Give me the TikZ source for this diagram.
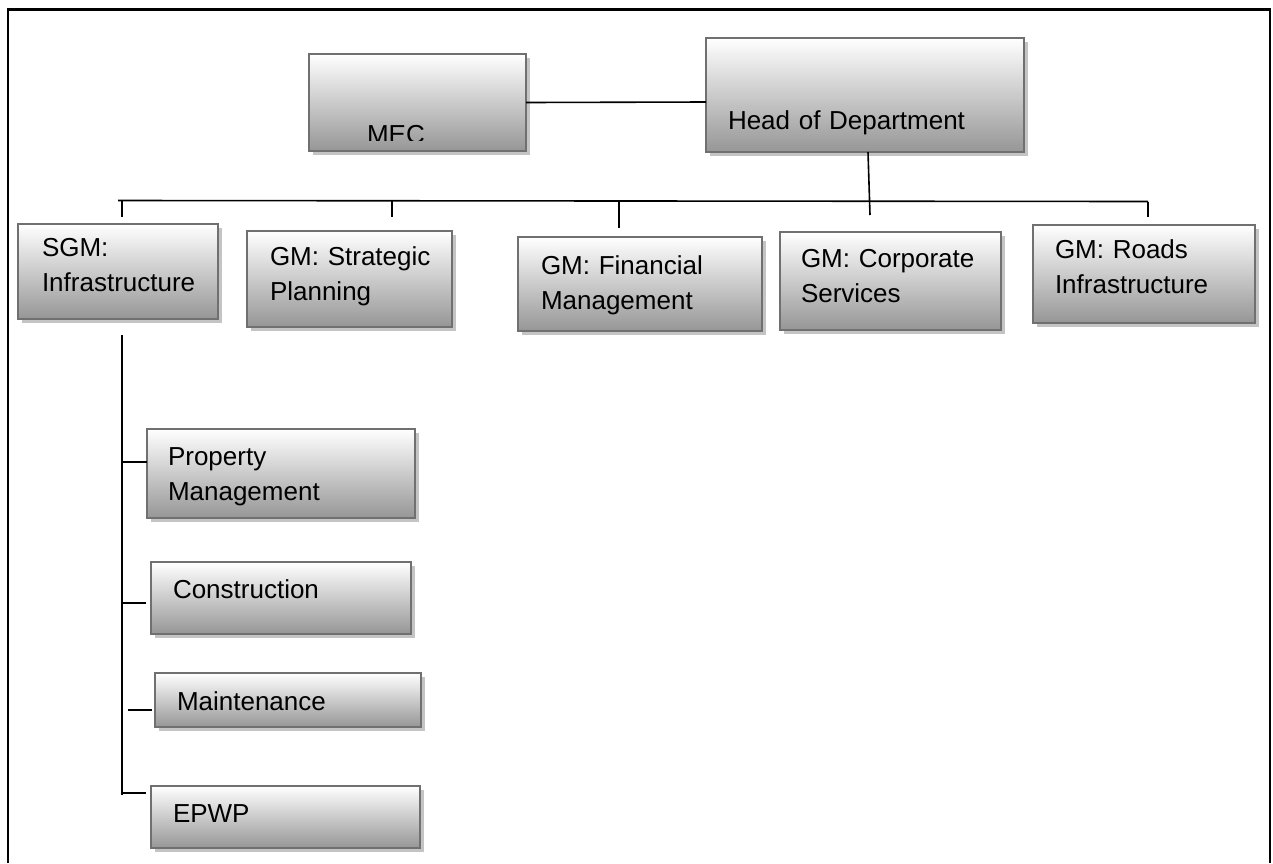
\documentclass[tikz,border=0pt]{standalone}
\usepackage{fontspec}
\setmainfont{Liberation Sans}
\usetikzlibrary{shadows,calc}
\definecolor{boxline}{RGB}{112,112,112}
\definecolor{boxbot}{RGB}{150,150,150}
\definecolor{boxmid}{RGB}{226,226,226}
\definecolor{shadowgray}{RGB}{196,196,196}
\begin{document}
\begin{tikzpicture}[x=1pt,y=-1pt,
  orgbox/.style={draw=boxline, line width=1.6pt, inner sep=0pt, outer sep=0pt,
    top color=white, middle color=boxmid, bottom color=boxbot,
    drop shadow={shadow xshift=4pt, shadow yshift=-4pt, fill=shadowgray, opacity=1}},
  boxtext/.style={anchor=base west, inner sep=0pt, outer sep=0pt, text width=260pt, align=left,
    font=\fontsize{26}{35.5}\selectfont},
  conn/.style={draw=black, line width=1.6pt}]
\useasboundingbox (0,0) rectangle (1273,863);
% frame
\draw[line width=2.6pt] (8,863) -- (8,9.5) -- (1270,9.5) -- (1270,863);

% boxes
\node[orgbox, minimum width=217pt, minimum height=97pt] (mec) at (417.5,102.5) {};
\node[orgbox, minimum width=318pt, minimum height=114pt] (hod) at (865,95) {};
\node[orgbox, minimum width=200pt, minimum height=95pt] (sgm) at (118,271.5) {};
\node[orgbox, minimum width=205pt, minimum height=96pt] (strat) at (349.5,279) {};
\node[orgbox, minimum width=244pt, minimum height=94pt] (fin) at (640,284) {};
\node[orgbox, minimum width=221pt, minimum height=98pt] (corp) at (890.5,281) {};
\node[orgbox, minimum width=222pt, minimum height=98pt] (roads) at (1144,274) {};
\node[orgbox, minimum width=268pt, minimum height=89pt] (prop) at (281,473.5) {};
\node[orgbox, minimum width=260pt, minimum height=72pt] (cons) at (281,598) {};
\node[orgbox, minimum width=266pt, minimum height=54pt] (maint) at (288,700) {};
\node[orgbox, minimum width=269pt, minimum height=62pt] (epwp) at (285.5,817) {};

% texts
\begin{scope}
  \clip (309,54) rectangle (526,140.5);
  \node[boxtext] (mec-t) at (367,143) {MEC};
\end{scope}
\node[boxtext] (hod-t) at (728,129) {Head of Department};
\node[boxtext] (sgm-t) at (42,256) {SGM:\\Infrastructure};
\node[boxtext] (strat-t) at (270,265) {GM: Strategic\\Planning};
\node[boxtext] (fin-t) at (541,274) {GM: Financial\\Management};
\node[boxtext] (corp-t) at (801,267) {GM: Corporate\\Services};
\node[boxtext] (roads-t) at (1055,258) {GM: Roads\\Infrastructure};
\node[boxtext] (prop-t) at (168,465) {Property\\Management};
\node[boxtext] (cons-t) at (173,598) {Construction};
\node[boxtext] (maint-t) at (177,710) {Maintenance};
\node[boxtext] (epwp-t) at (173,822) {EPWP};

% connectors
\draw[conn] (mec.east) -- ($(hod.west)+(0,7)$);
\coordinate (hodbus) at (870,215);
\draw[conn] ($(hod.south)+(3,0)$) -- (hodbus);
\coordinate (busL) at (118,200.5);
\coordinate (busR) at (1148,201.5);
\draw[conn] (busL) -- (busR);
\coordinate (t1a) at (122,200.5); \coordinate (t1b) at (122,217);
\coordinate (t2a) at (392,200.5); \coordinate (t2b) at (392,217);
\coordinate (t3a) at (619,201); \coordinate (t3b) at (619,228);
\coordinate (t5a) at (1148,201.5); \coordinate (t5b) at (1148,217);
\draw[conn] (t1a) -- (t1b);
\draw[conn] (t2a) -- (t2b);
\draw[conn] (t3a) -- (t3b);
\draw[conn] (t5a) -- (t5b);
% left spine
\coordinate (spT) at (122,335);
\coordinate (spB) at (122,795);
\draw[conn] (spT) -- (spB);
\draw[conn] (122,462) -- (prop.west |- 0,462);
\draw[conn] (122,603) -- ($(cons.west |- 0,603)+(-5,0)$);
\coordinate (mtick) at (128,710);
\draw[conn] (mtick) -- ($(maint.west |- 0,710)+(-3,0)$);
\draw[conn] (122,793) -- ($(epwp.west |- 0,793)+(-5,0)$);
\end{tikzpicture}
\end{document}
